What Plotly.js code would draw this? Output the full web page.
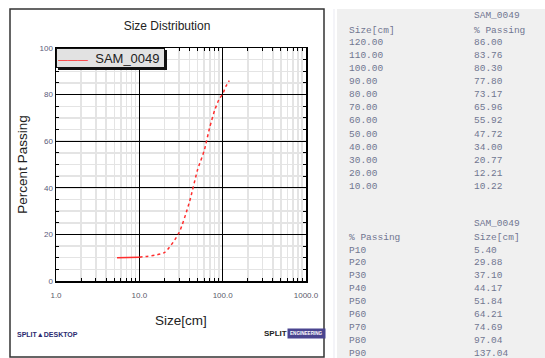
<!DOCTYPE html>
<html>
<head>
<meta charset="utf-8">
<script src="https://cdn.plot.ly/plotly-3.0.1.min.js"></script>
<style>
html,body{margin:0;padding:0;background:#fff;}
#chart{width:545px;height:358px;}
</style>
</head>
<body>
<div id="chart"></div>
<script>
// ---- data ----
const sizes   = [5.4, 10, 20, 30, 40, 50, 60, 70, 80, 90, 100, 110, 120];
const passing = [10.0, 10.22, 12.21, 20.77, 34.00, 47.72, 55.92, 65.96, 73.17, 77.80, 80.30, 83.76, 86.00];
const seriesName = 'SAM_0049';

const xTickVals = [1, 10, 100, 1000];
const xTickText = ['1.0', '10.0', '100.0', '1000.0'];
const yTickVals = [0, 20, 40, 60, 80, 100];
const yTickText = ['0', '20', '40', '60', '80', '100'];

// table 1 (size vs % passing)
const tableSizes   = ['120.00','110.00','100.00','90.00','80.00','70.00','60.00','50.00','40.00','30.00','20.00','10.00'];
const tablePassing = ['86.00','83.76','80.30','77.80','73.17','65.96','55.92','47.72','34.00','20.77','12.21','10.22'];
// table 2 (percentiles)
const pctLabels = ['P10','P20','P30','P40','P50','P60','P70','P80','P90'];
const pctSizes  = ['5.40','29.88','37.10','44.17','51.84','64.21','74.69','97.04','137.04'];

// ---- pixel -> paper helpers (plot area 56..306 x, 48..281 y) ----
const L = 56, R = 306, T = 48, B = 281;
const px = x => (x - L) / (R - L);
const py = y => (B - y) / (B - T);

const red = '#ff2d2d';

const traces = [
  {x: sizes.slice(0, 2), y: passing.slice(0, 2), mode: 'lines', showlegend: false,
   line: {color: red, width: 1.5}, hoverinfo: 'skip'},
  {x: sizes.slice(1), y: passing.slice(1), mode: 'lines', showlegend: false,
   line: {color: red, width: 1.5, dash: '3px,3px', shape: 'spline', smoothing: 0.6}}
];

const tableFont = {family: 'Liberation Mono, DejaVu Sans Mono, monospace', size: 9.5, color: '#707690'};
const ann = [];
function txt(x, y, s, extra) {
  ann.push(Object.assign({xref: 'paper', yref: 'paper', x: px(x), y: py(y), text: s,
    showarrow: false, xanchor: 'left', yanchor: 'middle', font: tableFont}, extra || {}));
}
const c1 = 347, c2 = 472;
txt(c2, 16, seriesName);
txt(c1, 30, 'Size[cm]');
txt(c2, 30, '% Passing');
tableSizes.forEach((s, i) => { txt(c1, 42.3 + i * 13.1, s); txt(c2, 42.3 + i * 13.1, tablePassing[i]); });
txt(c2, 223, seriesName);
txt(c1, 237, '% Passing');
txt(c2, 237, 'Size[cm]');
pctLabels.forEach((s, i) => { txt(c1, 250 + i * 12.9, s); txt(c2, 250 + i * 12.9, pctSizes[i]); });

// legend (box drawn as annotation so it can sit flush in the corner)
ann.push({xref: 'paper', yref: 'paper', x: px(57.5), y: py(49.5), xanchor: 'left', yanchor: 'top',
  showarrow: false, text: ' ', width: 109, height: 20, bgcolor: '#111', borderpad: 0, borderwidth: 0});
ann.push({xref: 'paper', yref: 'paper', x: px(56), y: py(48), xanchor: 'left', yanchor: 'top',
  showarrow: false, align: 'left', width: 105, height: 16, bgcolor: '#e2e2e2', bordercolor: '#111',
  borderwidth: 1, borderpad: 1,
  text: '<span style="font-size:10px"><span style="color:' + red + '">———</span></span>  ' + seriesName,
  font: {family: 'Liberation Sans, Arial', size: 13, color: '#222'}});

// logos (approximated as text)
ann.push({xref: 'paper', yref: 'paper', x: px(15), y: py(334), xanchor: 'left', yanchor: 'middle',
  showarrow: false, text: '<b>SPLIT▲DESKTOP</b>',
  font: {family: 'Liberation Sans Narrow, Liberation Sans, Arial', size: 7, color: '#2a2a70'}});
ann.push({xref: 'paper', yref: 'paper', x: px(262), y: py(333), xanchor: 'left', yanchor: 'middle',
  showarrow: false, text: '<b>SPLIT</b>',
  font: {family: 'Liberation Sans Narrow, Liberation Sans, Arial', size: 8, color: '#222'}});
ann.push({xref: 'paper', yref: 'paper', x: px(287), y: py(333), xanchor: 'left', yanchor: 'middle',
  showarrow: false, text: '<b>ENGINEERING</b>', bgcolor: '#4a4590', borderpad: 2,
  font: {family: 'Liberation Sans Narrow, Liberation Sans, Arial', size: 4.6, color: '#fff'}});

const shapes = [
  // outer chart frame
  {type: 'rect', xref: 'paper', yref: 'paper', x0: px(10), x1: px(324), y0: py(9), y1: py(357),
   line: {color: '#333', width: 1.5}, fillcolor: 'rgba(0,0,0,0)', layer: 'below'},
  // grey table panel
  {type: 'rect', xref: 'paper', yref: 'paper', x0: px(337), x1: px(546), y0: py(9), y1: py(359),
   line: {width: 0}, fillcolor: '#f0f0f0', layer: 'below'},
  {type: 'line', xref: 'paper', yref: 'paper', x0: px(334), x1: px(334), y0: py(9), y1: py(359),
   line: {color: '#f4f4f8', width: 2}, layer: 'below'}
];

const layout = {
  width: 545, height: 358,
  margin: {l: L, r: 545 - R, t: T, b: 358 - B, pad: 0},
  paper_bgcolor: '#fff', plot_bgcolor: '#fff',
  font: {family: 'Liberation Sans, Arial, sans-serif', color: '#222'},
  title: {text: 'Size Distribution', x: 167 / 545, xanchor: 'center', y: 1 - 26 / 358, yanchor: 'middle',
          font: {size: 12, color: '#222'}},
  showlegend: false,
  xaxis: {
    type: 'log', range: [0, 3], tickvals: xTickVals, ticktext: xTickText,
    showgrid: true, gridcolor: '#000', gridwidth: 1,
    showline: true, linecolor: '#000', linewidth: 1.5, mirror: 'ticks',
    ticks: 'inside', ticklen: 4, tickcolor: '#000', ticklabelstandoff: 6,
    minor: {dtick: 'D1', showgrid: true, gridcolor: '#e4e4e4', gridwidth: 1.5, ticks: 'inside', ticklen: 3, tickcolor: '#000'},
    tickfont: {size: 8, color: '#5a5a6a'},
    title: {text: 'Size[cm]', font: {size: 13.5, color: '#222'}, standoff: 16},
    zeroline: false, fixedrange: true, automargin: false
  },
  yaxis: {
    range: [0, 100], tickvals: yTickVals, ticktext: yTickText,
    showgrid: true, gridcolor: '#000', gridwidth: 1,
    showline: true, linecolor: '#000', linewidth: 1.5, mirror: 'ticks',
    ticks: 'inside', ticklen: 4, tickcolor: '#000',
    minor: {dtick: 5, showgrid: true, gridcolor: '#e4e4e4', gridwidth: 1.5, ticks: 'inside', ticklen: 3, tickcolor: '#000'},
    tickfont: {size: 8, color: '#5a5a7a'},
    title: {text: 'Percent Passing', font: {size: 13.5, color: '#222'}, standoff: 9},
    zeroline: false, fixedrange: true, automargin: false
  },
  shapes: shapes,
  annotations: ann
};

Plotly.newPlot('chart', traces, layout, {staticPlot: true, displayModeBar: false});
</script>
</body>
</html>
